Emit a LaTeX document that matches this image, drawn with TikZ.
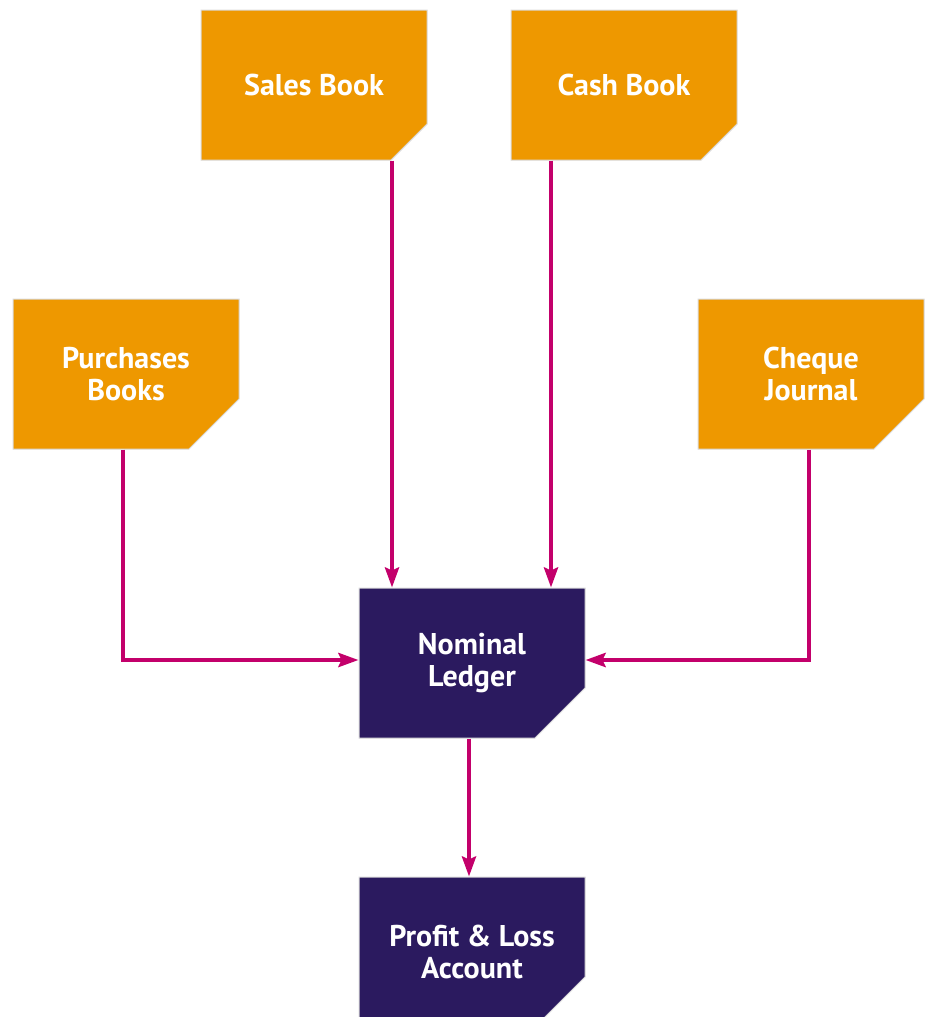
\documentclass[tikz,border=0pt]{standalone}
\usepackage{fontspec}
\setmainfont{PT Sans}
\usetikzlibrary{arrows.meta,shapes.misc}
\definecolor{bookorange}{HTML}{EE9800}
\definecolor{ledgerpurple}{HTML}{2B1A5F}
\definecolor{flowmagenta}{HTML}{C3006B}
\tikzset{
  docbox/.style={chamfered rectangle, chamfered rectangle corners=south east,
    chamfered rectangle xsep=25pt, chamfered rectangle ysep=25pt,
    minimum width=226pt, minimum height=150pt, inner sep=0pt,
    draw=black!15, line width=1pt, text=white, align=center,
    font=\fontsize{30}{32}\selectfont\bfseries},
  book/.style={docbox, fill=bookorange},
  ledger/.style={docbox, fill=ledgerpurple},
  flow/.style={draw=flowmagenta, line width=4pt,
    -{Stealth[length=20pt,width=14pt,inset=3pt]}}
}
\begin{document}
\begin{tikzpicture}[x=1pt, y=-1pt]
        \useasboundingbox (0,0) rectangle (929,1017);

        % the four books on top
        \node[book] (sales) at (314,85) {Sales Book};
        \node[book] (cash) at (624,85) {Cash Book};
        \node[book] (purchases) at (126,374) {Purchases\\Books};
        \node[book] (cheque) at (811,374) {Cheque\\Journal};

        % the ledger and the account below it
        \node[ledger] (nominal) at (472,663) {Nominal\\Ledger};
        \node[ledger] (profit) at (472,952) {Profit \& Loss\\Account};

        % straight arrows down into the ledger
        \draw[flow] ([xshift=78pt]sales.south) -- ([xshift=78pt]sales.south |- nominal.north);
        \draw[flow] ([xshift=-73pt]cash.south) -- ([xshift=-73pt]cash.south |- nominal.north);

        % the bent arrows from the sides
        \draw[flow] ([xshift=-3pt]purchases.south) |- ([yshift=3pt]nominal.west);
        \draw[flow] ([xshift=-2pt]cheque.south) |- ([yshift=3pt]nominal.east);

        % ledger to account
        \draw[flow] ([xshift=-3pt]nominal.south) -- ([xshift=-3pt]profit.north);
\end{tikzpicture}
\end{document}
